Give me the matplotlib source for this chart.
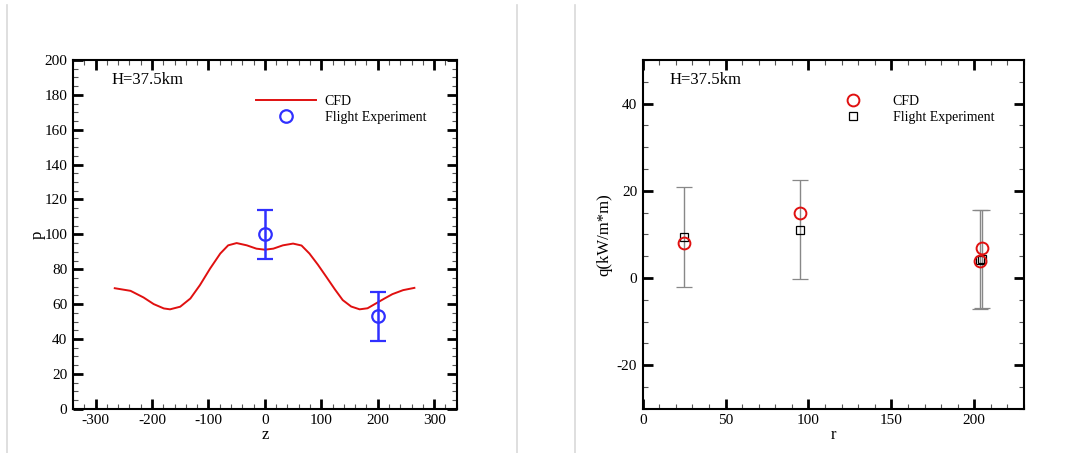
import numpy as np
import matplotlib
matplotlib.use("Agg")
import matplotlib.pyplot as plt
from matplotlib.lines import Line2D
from matplotlib.ticker import MultipleLocator

plt.rcParams['font.family'] = ['Liberation Serif', 'DejaVu Serif']
plt.rcParams['axes.unicode_minus'] = False

# left panel: pressure along z
cfd_z = [-266, -238, -215, -197, -179, -168, -150, -132, -115, -97, -79, -65, -50, -32, -15, 0,
         15, 32, 50, 65, 79, 94, 109, 124, 138, 153, 168, 182, 197, 212, 226, 245, 265]
cfd_p = [69.1, 67.6, 63.8, 60.0, 57.5, 57.0, 58.5, 63.2, 70.9, 80.4, 89.0, 93.7, 95.0, 93.7, 91.8, 91.2,
         91.8, 93.7, 94.7, 93.6, 89.0, 82.6, 75.6, 68.5, 62.3, 58.6, 57.0, 57.6, 60.4, 63.2, 65.7, 68.0, 69.3]
exp_z = [0, 200]
exp_p = [100, 53]
exp_p_err = [14, 14]

# right panel: heat flux along r
cfd_r = [25, 95, 203.2, 204.8]
cfd_q = [8.0, 15.0, 4.0, 6.8]
flt_r = [25.2, 94.8, 203.2, 204.6]
flt_q = [9.4, 11.1, 4.2, 4.3]
flt_q_err = [11.4, 11.4, 11.3, 11.3]

W, H = 1073, 453
fig = plt.figure(figsize=(W / 100, H / 100), dpi=100)

# page borders from the screenshot
for xp in [7, 517, 575]:
    fig.add_artist(Line2D([xp / W, xp / W], [0, 1 - 5 / H], color='#d9d9d9', lw=1.2))


def px_axes(x0, y0, x1, y1):
    return fig.add_axes([x0 / W, 1 - y1 / H, (x1 - x0) / W, (y1 - y0) / H])


def style(ax):
    for s in ax.spines.values():
        s.set_linewidth(1.5)
    ax.tick_params(which='both', direction='in', top=True, right=True, labelsize=11, pad=4)
    ax.tick_params(which='major', length=7, width=2)
    ax.tick_params(which='minor', length=3.5, width=0.8, color='#555555')


ax1 = px_axes(73, 60, 456.7, 408.7)
ax1.plot(cfd_z, cfd_p, color='#e01010', lw=1.4, label='CFD', solid_joinstyle='round')
ax1.errorbar(exp_z, exp_p, yerr=exp_p_err, fmt='o', mfc='none', mec='#3030ff', ms=9,
             mew=1.6, ecolor='#3030ff', elinewidth=1.8, capsize=6, capthick=1.8,
             label='Flight Experiment')
ax1.set_xlim(-340, 340)
ax1.set_ylim(0, 200)
ax1.xaxis.set_major_locator(MultipleLocator(100))
ax1.xaxis.set_minor_locator(MultipleLocator(20))
ax1.yaxis.set_major_locator(MultipleLocator(20))
ax1.yaxis.set_minor_locator(MultipleLocator(5))
style(ax1)
ax1.set_xlabel('z', fontsize=12, labelpad=0)
ax1.set_ylabel('p', fontsize=12, labelpad=-1)
ax1.text(0.1, 0.965, 'H=37.5km', transform=ax1.transAxes, fontsize=12, va='top')
h, l = ax1.get_legend_handles_labels()
ax1.legend([h[0], h[1][0]], l, loc='upper left', bbox_to_anchor=(0.46, 0.92), frameon=False,
           fontsize=10, handlelength=4.3, handletextpad=0.6, labelspacing=0.25,
           borderpad=0)

ax2 = px_axes(642.7, 60, 1024, 408.7)
ax2.plot(cfd_r, cfd_q, 'o', mfc='none', mec='#e01010', ms=8.5, mew=1.4, label='CFD', zorder=3)
ax2.errorbar(flt_r, flt_q, yerr=flt_q_err, fmt='s', mfc='none', mec='black', ms=6,
             mew=0.9, ecolor='#888888', elinewidth=1.0, capsize=6, capthick=1.0,
             label='Flight Experiment')
ax2.set_xlim(0, 230)
ax2.set_ylim(-30, 50)
ax2.xaxis.set_major_locator(MultipleLocator(50))
ax2.xaxis.set_minor_locator(MultipleLocator(10))
ax2.yaxis.set_major_locator(MultipleLocator(20))
ax2.yaxis.set_minor_locator(MultipleLocator(5))
style(ax2)
ax2.set_xlabel('r', fontsize=12, labelpad=0)
ax2.set_ylabel('q(kW/m*m)', fontsize=12, labelpad=3)
ax2.text(0.07, 0.965, 'H=37.5km', transform=ax2.transAxes, fontsize=12, va='top')
h, l = ax2.get_legend_handles_labels()
ax2.legend([h[0], h[1][0]], l, loc='upper left', bbox_to_anchor=(0.47, 0.92), frameon=False,
           fontsize=10, handlelength=3.5, handletextpad=1.1, labelspacing=0.25,
           borderpad=0)

fig.savefig('out.png', dpi=100)
